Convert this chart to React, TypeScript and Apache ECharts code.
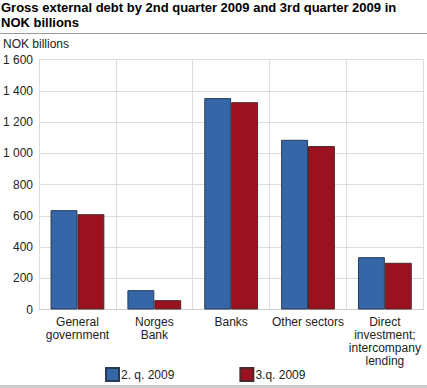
import React, { useEffect, useRef } from "react";
import * as echarts from "echarts";

const categories = [
  "General\ngovernment",
  "Norges\nBank",
  "Banks",
  "Other sectors",
  "Direct\ninvestment;\nintercompany\nlending",
];
const q2Values = [636, 124, 1353, 1086, 335];
const q3Values = [610, 60, 1327, 1046, 299];
const seriesNames = ["2. q. 2009", "3.q. 2009"];

const FONT = "'Liberation Sans', Arial, sans-serif";

export default function App() {
  const ref = useRef<HTMLDivElement>(null);
  useEffect(() => {
    if (!ref.current) return;
    const chart = echarts.init(ref.current, null, { renderer: "svg" });
    chart.setOption({
      animation: false,
      textStyle: { fontFamily: FONT },
      title: {
        text: "Gross external debt by 2nd quarter 2009 and 3rd quarter 2009 in\nNOK billions",
        left: 1,
        top: 0,
        padding: 0,
        textStyle: { fontSize: 13, fontWeight: "bold", color: "#000", lineHeight: 15, fontFamily: FONT },
      },
      graphic: [
        { type: "line", shape: { x1: 0, y1: 33.5, x2: 427, y2: 33.5 }, style: { stroke: "#999", lineWidth: 1 } },
        { type: "rect", shape: { x: 0, y: 385, width: 427, height: 3 }, style: { fill: "#ccc" } },
        {
          type: "text",
          left: 3,
          top: 38,
          style: { text: "NOK billions", fontSize: 12, fill: "#222", fontFamily: FONT },
        },
      ],
      legend: {
        data: seriesNames,
        left: 105,
        top: 367,
        padding: 0,
        itemWidth: 13,
        itemHeight: 13,
        itemGap: 65,
        icon: "rect",
        textStyle: { fontSize: 12, color: "#222", fontFamily: FONT, padding: [0, 0, 0, -3] },
      },
      grid: { left: 36, right: 3.7, top: 59.5, bottom: 78.5, containLabel: false },
      xAxis: {
        type: "category",
        data: categories,
        axisLine: { lineStyle: { color: "#ccc" } },
        axisTick: { show: false },
        splitLine: { show: true, lineStyle: { color: "#ddd" } },
        axisLabel: { interval: 0, fontSize: 12, color: "#222", lineHeight: 13, margin: 6, fontFamily: FONT },
      },
      yAxis: {
        type: "value",
        min: 0,
        max: 1600,
        interval: 200,
        axisLine: { show: false },
        axisTick: { show: false },
        splitLine: { lineStyle: { color: "#ddd" } },
        axisLabel: {
          fontSize: 12,
          color: "#222",
          margin: 6,
          fontFamily: FONT,
          formatter: (v: number) => (v >= 1000 ? `${Math.floor(v / 1000)} ${String(v % 1000).padStart(3, "0")}` : `${v}`),
        },
      },
      series: [
        {
          name: seriesNames[0],
          type: "bar",
          data: q2Values,
          barGap: "0%",
          barCategoryGap: "30%",
          itemStyle: { color: "#3566a8", borderColor: "#2a3a55", borderWidth: 1 },
        },
        {
          name: seriesNames[1],
          type: "bar",
          data: q3Values,
          barGap: "0%",
          barCategoryGap: "30%",
          itemStyle: { color: "#9c111f", borderColor: "#4a2a2a", borderWidth: 1 },
        },
      ],
    });
    return () => chart.dispose();
  }, []);
  return <div ref={ref} style={{ width: 427, height: 388, position: "absolute", left: 0, top: 0 }} />;
}
